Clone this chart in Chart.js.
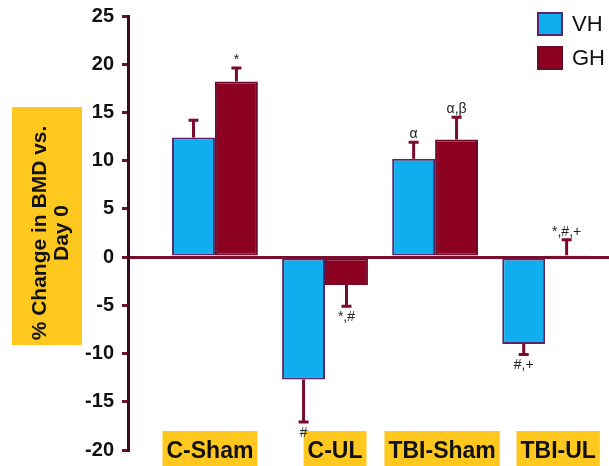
<!DOCTYPE html>
<html>
<head>
<meta charset="utf-8">
<script src="https://cdn.jsdelivr.net/npm/chart.js@4"></script>
<style>
  body { margin: 0; background: #fff; }
  canvas { display: block; }
</style>
</head>
<body>
<canvas id="bmdChart" width="609" height="466"></canvas>
<script>
const groups = ["C-Sham", "C-UL", "TBI-Sham", "TBI-UL"];
const vhValues = [12.4, -12.7, 10.2, -9.0];
const ghValues = [18.2, -2.9, 12.2, 0.2];
const vhErrors = [1.8, 4.4, 1.7, 1.1];
const ghErrors = [1.4, 2.2, 2.3, 1.6];
const vhMarks = ["", "#", "α", "#,+"];
const ghMarks = ["*", "*,#", "α,β", "*,#,+"];
const yTicks = [25, 20, 15, 10, 5, 0, -5, -10, -15, -20];

const plain = "'Liberation Sans', Arial, sans-serif";
const gold = "#ffc81e";
// the gold name boxes are not quite centred under their groups
const labelNudge = [-5, 10, 7, 13];

// yellow box behind the y title
const titleBox = {
  id: "titleBox",
  beforeDraw(chart) {
    const ctx = chart.ctx;
    ctx.save();
    ctx.fillStyle = gold;
    ctx.fillRect(12, 107, 70, 238);
    ctx.restore();
  }
};

// group names on gold boxes along the bottom
const groupLabels = {
  id: "groupLabels",
  beforeDatasetsDraw(chart) {
    const ctx = chart.ctx;
    const x = chart.scales.x;
    ctx.save();
    ctx.font = "bold 23px " + plain;
    ctx.textAlign = "center";
    ctx.textBaseline = "alphabetic";
    chart.data.labels.forEach((label, i) => {
      const cx = x.getPixelForTick(i) + labelNudge[i];
      const w = ctx.measureText(label).width + 8;
      ctx.fillStyle = gold;
      ctx.fillRect(cx - w / 2, 431, w, 35);
      ctx.fillStyle = "#111";
      ctx.fillText(label, cx, 458);
    });
    ctx.restore();
  }
};

// error bars + significance marks
const errorBars = {
  id: "errorBars",
  afterDatasetsDraw(chart) {
    const ctx = chart.ctx;
    const y = chart.scales.y;
    chart.data.datasets.forEach((ds, di) => {
      const meta = chart.getDatasetMeta(di);
      meta.data.forEach((bar, i) => {
        const v = ds.data[i];
        const dir = v >= 0 ? 1 : -1;
        const start = y.getPixelForValue(v);
        const end = y.getPixelForValue(v + dir * ds.errors[i]);
        ctx.save();
        ctx.strokeStyle = "#7b0a2c";
        ctx.lineWidth = 3;
        ctx.beginPath();
        ctx.moveTo(bar.x, start);
        ctx.lineTo(bar.x, end);
        ctx.moveTo(bar.x - 5, end);
        ctx.lineTo(bar.x + 5, end);
        ctx.stroke();
        ctx.fillStyle = "#222";
        ctx.font = "14px " + plain;
        ctx.textAlign = "center";
        if (dir > 0) {
          ctx.textBaseline = "alphabetic";
          ctx.fillText(ds.marks[i], bar.x, end - 4);
        } else {
          ctx.textBaseline = "top";
          ctx.fillText(ds.marks[i], bar.x, end + 4);
        }
        ctx.restore();
      });
    });
  }
};

// legend in the top right corner
const sideLegend = {
  id: "sideLegend",
  afterDraw(chart) {
    const ctx = chart.ctx;
    const left = chart.width - 71;
    ctx.save();
    chart.data.datasets.forEach((ds, i) => {
      const top = 13 + i * 34;
      ctx.fillStyle = ds.backgroundColor;
      ctx.fillRect(left, top, 24, 22);
      ctx.strokeStyle = ds.borderColor;
      ctx.lineWidth = 2;
      ctx.strokeRect(left, top, 24, 22);
      ctx.fillStyle = "#111";
      ctx.font = "22px " + plain;
      ctx.textAlign = "left";
      ctx.textBaseline = "middle";
      ctx.fillText(ds.label, left + 34, top + 12);
    });
    ctx.restore();
  }
};

const ctx = document.getElementById("bmdChart").getContext("2d");
new Chart(ctx, {
  type: "bar",
  data: {
    labels: groups,
    datasets: [
      {
        label: "VH",
        data: vhValues,
        errors: vhErrors,
        marks: vhMarks,
        backgroundColor: "#10aeef",
        borderColor: "#5b2466",
        borderWidth: 2,
        borderSkipped: false,
        categoryPercentage: 0.78,
        barPercentage: 1
      },
      {
        label: "GH",
        data: ghValues,
        errors: ghErrors,
        marks: ghMarks,
        backgroundColor: "#8c0020",
        borderColor: "#6e0a2a",
        borderWidth: 2,
        borderSkipped: false,
        categoryPercentage: 0.78,
        barPercentage: 1
      }
    ]
  },
  options: {
    responsive: false,
    animation: false,
    layout: { padding: { top: 16, left: 0, right: 0, bottom: 0 } },
    plugins: {
      legend: { display: false },
      tooltip: { enabled: false }
    },
    scales: {
      x: {
        // leave extra room between the y axis and the first group
        afterBuildTicks: s => { s._startValue = -0.79; s._valueRange = 4.37; },
        afterFit: s => { s.height = 16; },
        grid: { display: false, drawTicks: false },
        border: { display: false },
        ticks: { display: false }
      },
      y: {
        min: -20,
        max: 25,
        afterBuildTicks: s => { s.ticks = yTicks.map(v => ({ value: v })); },
        afterFit: s => { s.width = 128; },
        border: { color: "#3a0a20", width: 3 },
        grid: {
          color: c => (c.tick && c.tick.value === 0 ? "#7a0d2e" : "transparent"),
          lineWidth: 3,
          tickColor: "#6a1030",
          tickLength: 6,
          tickWidth: 3
        },
        ticks: {
          color: "#111",
          font: { family: plain, size: 20, weight: "bold", lineHeight: 0.8 },
          padding: 8
        },
        title: {
          display: true,
          text: ["% Change in BMD vs.", "Day 0"],
          color: "#111",
          font: { family: plain, size: 21, weight: "bold", lineHeight: 1.05 },
          padding: { top: 29, bottom: 0 }
        }
      }
    }
  },
  plugins: [titleBox, groupLabels, errorBars, sideLegend]
});
</script>
</body>
</html>
